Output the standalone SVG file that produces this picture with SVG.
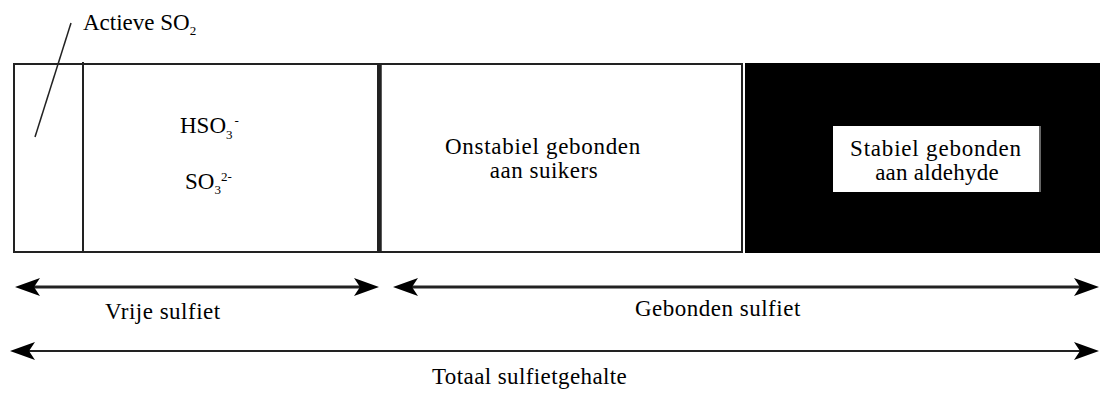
<svg xmlns="http://www.w3.org/2000/svg" width="1103" height="394" viewBox="0 0 1103 394">
<style>
  text { fill: #000; font-family: "Liberation Serif", "DejaVu Serif", serif; font-size: 23px; }
  .s { font-size: 13px; }
  .box { fill: #fff; stroke: #222; stroke-width: 2; }
  .ln { stroke: #222; fill: none; }
</style>
<defs>
  <marker id="ah" viewBox="-28 -10 29 20" refX="-12" refY="0" markerWidth="29" markerHeight="20" markerUnits="userSpaceOnUse" orient="auto-start-reverse">
    <path d="M0,0 L-25,-9 L-19,0 L-25,9 Z" fill="#000"/>
  </marker>
</defs>
<rect width="1103" height="394" fill="#fff"/>

<g id="vrij-box">
  <rect class="box" x="14" y="64" width="364" height="188"/>
  <line class="ln" x1="83" y1="62" x2="83" y2="252" stroke-width="2"/>
  <text x="180" y="133">HSO<tspan class="s" dy="6">3</tspan><tspan class="s" dx="2" dy="-14">-</tspan></text>
  <text x="185" y="189">SO<tspan class="s" dy="5">3</tspan><tspan class="s" dy="-13">2-</tspan></text>
</g>

<g id="actieve-so2">
  <line class="ln" x1="71" y1="23" x2="35" y2="137" stroke-width="1.5"/>
  <text x="83" y="30">Actieve SO<tspan class="s" dy="5">2</tspan></text>
</g>

<g id="onstabiel-box">
  <rect class="box" x="380" y="64" width="362" height="188"/>
  <line class="ln" x1="380" y1="63" x2="380" y2="253" stroke-width="3.5"/>
  <text x="543" y="154" text-anchor="middle" letter-spacing="0.7">Onstabiel gebonden</text>
  <text x="544" y="178" text-anchor="middle" letter-spacing="0.5">aan suikers</text>
</g>

<g id="stabiel-box">
  <rect x="745" y="63" width="355" height="190" fill="#000"/>
  <rect x="833" y="126" width="206" height="66" fill="#fff"/>
  <line x1="1040" y1="126" x2="1040" y2="192" stroke="#888" stroke-width="1.5"/>
  <text x="936" y="156" text-anchor="middle" letter-spacing="0.8">Stabiel gebonden</text>
  <text x="937" y="180" text-anchor="middle" letter-spacing="0.25">aan aldehyde</text>
</g>

<g id="connectors">
  <line class="ln" x1="27" y1="287" x2="367" y2="287" stroke="#000" stroke-width="3" marker-start="url(#ah)" marker-end="url(#ah)"/>
  <line class="ln" x1="405" y1="287" x2="1087" y2="287" stroke="#000" stroke-width="3" marker-start="url(#ah)" marker-end="url(#ah)"/>
  <line class="ln" x1="22" y1="351" x2="1087" y2="351" stroke="#000" stroke-width="2" marker-start="url(#ah)" marker-end="url(#ah)"/>
</g>

<g id="labels">
  <text x="105" y="319" letter-spacing="0.5">Vrije sulfiet</text>
  <text x="635" y="316" letter-spacing="0.5">Gebonden sulfiet</text>
  <text x="432" y="384" letter-spacing="0.4">Totaal sulfietgehalte</text>
</g>
</svg>
